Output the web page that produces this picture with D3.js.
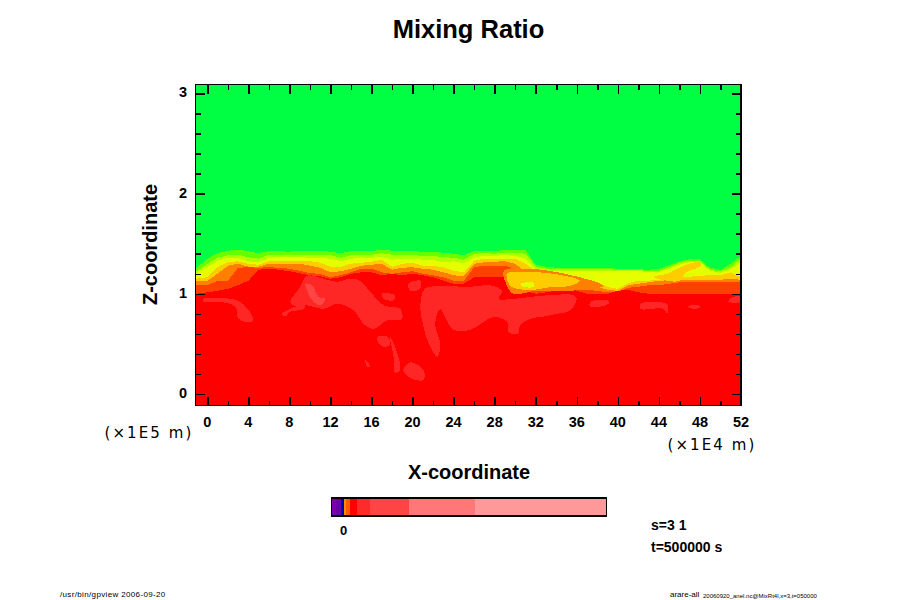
<!DOCTYPE html>
<html><head><meta charset="utf-8">
<script src="https://cdnjs.cloudflare.com/ajax/libs/d3/7.8.5/d3.min.js"></script>
<style>html,body{margin:0;background:#fff}svg{display:block}text{fill:#000;font-family:"Liberation Sans",Arial,sans-serif}</style>
</head><body><svg id="c" width="900" height="600"></svg>
<script>
const title="Mixing Ratio", xLabel="X-coordinate", zLabel="Z-coordinate";
const xMajor=d3.range(0,53,4), xMinor=d3.range(2,53,4);
const zMajor=[0,1,2,3], zMinor=[0.2,0.4,0.6,0.8,1.2,1.4,1.6,1.8,2.2,2.4,2.6,2.8];
const xGrid=[-1.17].concat(d3.range(0,53));
const edgeA=[1.25,1.35,1.405,1.43,1.44,1.425,1.405,1.425,1.425,1.42,1.43,1.43,1.43,1.42,1.405,1.425,1.425,1.425,1.44,1.43,1.43,1.425,1.42,1.42,1.41,1.40,1.385,1.425,1.43,1.425,1.44,1.44,1.44,1.29,1.27,1.26,1.26,1.26,1.26,1.26,1.26,1.25,1.25,1.245,1.24,1.25,1.285,1.325,1.345,1.345,1.26,1.24,1.30,1.38];
const edgeB=[1.215,1.30,1.36,1.385,1.39,1.365,1.35,1.39,1.39,1.39,1.39,1.39,1.39,1.385,1.36,1.385,1.39,1.39,1.405,1.39,1.39,1.385,1.38,1.38,1.365,1.36,1.34,1.40,1.405,1.40,1.41,1.41,1.40,1.27,1.25,1.245,1.245,1.245,1.245,1.245,1.245,1.24,1.24,1.24,1.225,1.23,1.265,1.31,1.33,1.33,1.24,1.225,1.265,1.35];
const edgeC=[1.20,1.265,1.33,1.36,1.36,1.325,1.315,1.36,1.365,1.365,1.365,1.36,1.36,1.35,1.325,1.35,1.36,1.36,1.37,1.34,1.35,1.35,1.34,1.34,1.315,1.325,1.305,1.365,1.38,1.38,1.385,1.38,1.35,1.25,1.225,1.225,1.225,1.225,1.225,1.225,1.225,1.225,1.225,1.225,1.22,1.22,1.25,1.29,1.315,1.315,1.23,1.21,1.245,1.315];
const edgeD=[1.15,1.165,1.265,1.315,1.325,1.30,1.29,1.325,1.33,1.33,1.33,1.325,1.31,1.27,1.27,1.30,1.31,1.32,1.34,1.27,1.30,1.31,1.28,1.28,1.265,1.23,1.215,1.33,1.35,1.35,1.35,1.35,1.30,1.23,1.215,1.215,1.165,1.13,1.125,1.115,1.07,1.05,1.105,1.13,1.13,1.14,1.16,1.17,1.17,1.18,1.185,1.185,1.215,1.165];
const edgeE=[1.13,1.13,1.20,1.28,1.30,1.27,1.27,1.30,1.30,1.30,1.30,1.28,1.26,1.215,1.225,1.25,1.28,1.29,1.30,1.24,1.26,1.265,1.25,1.24,1.215,1.185,1.175,1.30,1.315,1.32,1.325,1.30,1.215,1.20,1.185,1.15,1.115,1.085,1.085,1.07,1.04,1.03,1.085,1.10,1.115,1.13,1.135,1.14,1.14,1.14,1.14,1.14,1.15,1.14];
const edgeF=[1.085,1.085,1.13,1.13,1.26,1.265,1.26,1.265,1.26,1.25,1.23,1.205,1.20,1.165,1.185,1.215,1.25,1.25,1.215,1.20,1.215,1.225,1.20,1.185,1.165,1.13,1.13,1.265,1.28,1.28,1.28,1.25,1.185,1.15,1.13,1.105,1.085,1.05,1.04,1.03,1.015,1.015,1.06,1.07,1.085,1.085,1.10,1.115,1.115,1.115,1.115,1.115,1.115,1.115];
const edgeG=[1.0,1.015,1.03,1.05,1.085,1.13,1.24,1.25,1.24,1.225,1.205,1.185,1.175,1.15,1.165,1.20,1.215,1.215,1.185,1.20,1.185,1.20,1.185,1.165,1.13,1.10,1.10,1.165,1.165,1.165,1.17,1.10,1.03,1.0,1.015,1.03,1.06,1.03,1.0,1.0,1.0,1.03,1.04,1.015,1.0,1.0,1.0,1.0,1.0,1.0,1.0,1.0,1.0,1.0];
const edges=[edgeA,edgeB,edgeC,edgeD,edgeE,edgeF,edgeG];
const bandColors=["#66ff00","#b3ff00","#e6ff00","#ffcc00","#ff8000","#ff4000","#ff0000"];
const patches=[
[[8.08,.92],[9.06,1.07],[9.7,1.18],[11.33,1.15],[12.63,1.12],[13.93,1.15],[14.9,1.13],[15.88,1.02],[17.18,.885],[18.8,.85],[18.96,.75],[17.5,.735],[16.2,.65],[15.23,.70],[14.25,.835],[12.63,.90],[11.33,.85],[9.7,.885],[8.4,.885]],
[[-.36,.95],[2.24,.95],[3.2,.92],[4.35,.785],[4.35,.72],[3.05,.75],[2.73,.87],[1.27,.92],[-.36,.92]],
[[7.27,.80],[8.08,.85],[9.55,.895],[9.38,.85],[8.08,.82],[7.6,.775]],
[[16.6,.57],[17.5,.575],[17.8,.49],[17.2,.47],[16.6,.52]],
[[17.8,.57],[18.3,.47],[18.8,.24],[18.3,.21],[18.15,.37]],
[[19.1,.24],[19.8,.315],[21.07,.24],[21.07,.14],[19.77,.16]],
[[15.4,.34],[15.9,.27],[15.55,.27]],
[[17,1.0],[18.3,.985],[18.15,.935],[17.18,.95]],
[[19.6,1.10],[20.75,1.13],[20.75,1.05],[19.77,1.03]],
[[20.75,.87],[21.2,1.05],[23,1.075],[25.6,1.07],[27.6,1.085],[28.7,1.03],[28.4,.95],[29.85,.95],[33.1,.985],[35.7,.985],[36,.95],[35.36,.835],[34.06,.80],[32.6,.77],[31.8,.76],[30.5,.687],[30.3,.60],[29.35,.62],[29.2,.72],[27.9,.77],[25.6,.64],[24,.64],[23.3,.74],[22.7,.85],[22.2,.70],[22.7,.49],[22.4,.37],[21.56,.505],[21.07,.67]],
[[50.8,.935],[51.25,.97],[52,.97],[52,.92],[50.8,.92]],
[[37.3,.92],[39.1,.93],[39.1,.90],[37.3,.87]],
[[42.2,.90],[44.8,.895],[44.8,.80],[44.45,.85],[42.2,.85]],
[[46.9,.88],[48,.88],[48,.86],[46.9,.86]]
];
const lightPatches=[[[9.55,1.10],[10.2,1.085],[10.84,.97],[11.5,.95],[11,.885],[10.36,.92],[9.87,1.0]]];
const orangeTongues=[[[28.9,1.23],[31.1,1.25],[34.1,1.216],[38.6,1.08],[35.4,1.03],[32.1,1.03],[29.8,1.0],[29.2,1.08]]];
const goldTongues=[[[29.2,1.2],[30.8,1.216],[33.7,1.2],[36.3,1.13],[35.4,1.08],[33.4,1.067],[31.8,1.04],[30.2,1.05],[29.5,1.08]],
[[43.5,1.17],[44.8,1.2],[46.4,1.28],[48,1.315],[48.1,1.28],[46.7,1.215],[46,1.13],[44.8,1.13]]];
const yellowSpots=[[[30.5,1.10],[31.8,1.11],[31.8,1.07],[30.8,1.07]]];
const barStops=[0,1.8,3.4,4.6,5.2,6.7,9.1,13.9,28.1,52,100];
const barColors=["#7a00b4","#6a00aa","#0000aa","#ff8c00","#ff5a00","#ff0000","#ff2a2a","#ff4444","#ff7777","#ff9999"];
const barZero=[4.4];

const svg=d3.select("#c");
const L=195.5,R=741,T=84.5,B=405.5;
const x=d3.scaleLinear().domain([0,52]).range([207.3,741]);
const z=d3.scaleLinear().domain([0,3]).range([394,93.4]);
const defs=svg.append("defs");
defs.append("clipPath").attr("id","pl").append("rect").attr("x",L).attr("y",T).attr("width",R-L).attr("height",B-T);
const g=svg.append("g").attr("clip-path","url(#pl)").attr("shape-rendering","crispEdges");
g.append("rect").attr("x",L).attr("y",T).attr("width",R-L).attr("height",B-T).attr("fill","#00ff42");
const area=d3.area().x((d,i)=>x(xGrid[i])).y0(B).y1(d=>z(d));
edges.forEach((e,i)=>g.append("path").attr("d",area(e)).attr("fill",bandColors[i]));
const line=d3.line().x(d=>x(d[0])).y(d=>z(d[1])).curve(d3.curveCatmullRomClosed);
patches.forEach(p=>g.append("path").attr("d",line(p)).attr("fill","#ff2626"));
lightPatches.forEach(p=>g.append("path").attr("d",line(p)).attr("fill","#ff4444"));
orangeTongues.forEach(p=>g.append("path").attr("d",line(p)).attr("fill","#ff8000"));
goldTongues.forEach(p=>g.append("path").attr("d",line(p)).attr("fill","#ffcc00"));
yellowSpots.forEach(p=>g.append("path").attr("d",line(p)).attr("fill","#e6ff00"));

function styleAxis(a){a.selectAll(".domain").remove();a.selectAll("line").attr("stroke","#000").attr("stroke-width",1.5).attr("shape-rendering","crispEdges");a.selectAll("text").remove();}
const fmt=d3.format("d");
[[d3.axisBottom,B,xMajor,9],[d3.axisBottom,B,xMinor,5],[d3.axisTop,T,xMajor,9],[d3.axisTop,T,xMinor,5]].forEach(([ax,y,v,s])=>{
  const a=svg.append("g").attr("transform",`translate(0,${y})`).call(ax(x).tickValues(v).tickSize(-s));styleAxis(a);});
[[d3.axisLeft,L,zMajor,9],[d3.axisLeft,L,zMinor,5],[d3.axisRight,R,zMajor,9],[d3.axisRight,R,zMinor,5]].forEach(([ax,p,v,s])=>{
  const a=svg.append("g").attr("transform",`translate(${p},0)`).call(ax(z).tickValues(v).tickSize(-s));styleAxis(a);});
svg.append("rect").attr("x",L).attr("y",T).attr("width",R-L).attr("height",B-T).attr("fill","none").attr("stroke","#000").attr("stroke-width",1.5).attr("shape-rendering","crispEdges");

const tx=(s,px,py,size,opt={})=>svg.append("text").text(s).attr("x",px).attr("y",py).attr("font-size",size)
  .attr("font-weight",opt.w||"bold").attr("text-anchor",opt.a||"middle").attr("transform",opt.t||null)
  .style("letter-spacing",opt.ls||null).style("font-family",opt.f||null);
xMajor.forEach(v=>tx(fmt(v),x(v),426.5,14.5));
zMajor.forEach(v=>tx(fmt(v),183,z(v)+4,14.5));
tx(title,468.5,38,25.5);
tx(xLabel,469,478.5,20);
tx(zLabel,0,0,20,{t:"translate(157,244.5) rotate(-90)"});
tx("(×1E5 m)",149,438,15,{w:"normal",ls:"2.1px",f:"'DejaVu Sans'"});
tx("(×1E4 m)",712,450,15,{w:"normal",ls:"2.1px",f:"'DejaVu Sans'"});

const bx=d3.scaleLinear().domain([0,100]).range([331.5,606.5]);
barColors.forEach((c,i)=>svg.append("rect").attr("x",bx(barStops[i])).attr("y",498).attr("width",bx(barStops[i+1])-bx(barStops[i])).attr("height",18).attr("fill",c).attr("shape-rendering","crispEdges"));
svg.append("rect").attr("x",331.5).attr("y",498).attr("width",275).attr("height",18).attr("fill","none").attr("stroke","#000").attr("stroke-width",1.3).attr("shape-rendering","crispEdges");
barZero.forEach(v=>tx("0",bx(v),535,13));
tx("s=3 1",651,530,14,{a:"start"});
tx("t=500000 s",651,552,14,{a:"start"});
tx("/usr/bin/gpview 2006-09-20",60,597,8,{a:"start",w:"normal",ls:"0.35px"});
tx("arare-all",670,597,8,{a:"start",w:"normal"});
tx("20060920_anel.nc@MixRt4l,x=3,t=050000",703,597.5,6,{a:"start",w:"normal"});
</script></body></html>
